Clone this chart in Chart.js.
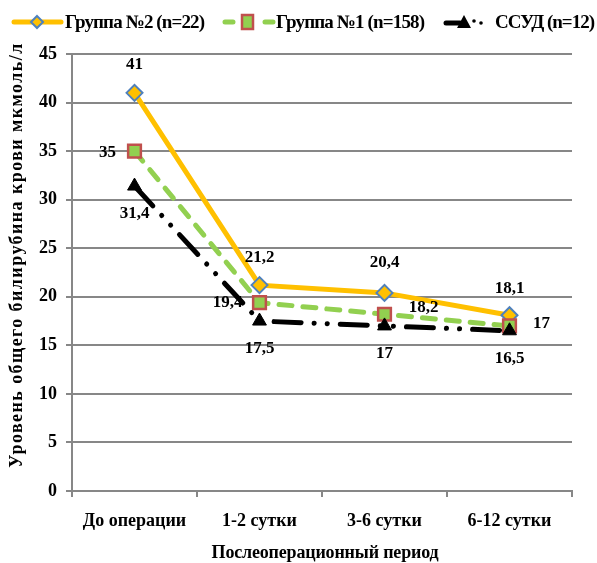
<!DOCTYPE html>
<html>
<head>
<meta charset="utf-8">
<script src="https://cdn.jsdelivr.net/npm/chart.js@4.4.1/dist/chart.umd.min.js"></script>
<style>
html,body{margin:0;padding:0;background:#fff}
#wrap{width:597px;height:563px}
</style>
</head>
<body>
<div id="wrap"><canvas id="c"></canvas></div>
<script>
const categories=['До операции','1-2 сутки','3-6 сутки','6-12 сутки']
const group2=[41,21.2,20.4,18.1]
const group1=[35,19.4,18.2,17]
const ssud=[31.4,17.5,17,16.5]
const names=['Группа №2 (n=22)','Группа №1 (n=158)','ССУД (n=12)']
const yTitle='Уровень общего билирубина крови мкмоль/л'
const xTitle='Послеоперационный период'

const FONT='"Liberation Serif","Times New Roman",serif'
const grey='#878787'

// where each value label sits, relative to its point
const labelPos=[
  [[0,-28],[0,-28],[0,-30],[0,-27]],
  [[-27,1],[-32,0],[39,-7],[32,-2]],
  [[0,28],[0,28],[0,28],[0,28]]
]
// legend: x of marker sample start and of text, target text widths
const legendX=[[13,65,140],[223,276,149],[444,495,100]]
const legendY=22

function drawSample(g,i,x,y){
  g.save()
  g.lineCap='round'
  g.lineWidth=5
  if(i==0){
    g.strokeStyle='#FFC000'
    g.beginPath();g.moveTo(x+1,y);g.lineTo(x+48,y);g.stroke()
    g.fillStyle='#FFC000';g.strokeStyle='#4F81BD';g.lineWidth=2
    g.beginPath();g.moveTo(x+24,y-6);g.lineTo(x+30,y);g.lineTo(x+24,y+6);g.lineTo(x+18,y);g.closePath();g.fill();g.stroke()
  }else if(i==1){
    g.strokeStyle='#92D050'
    g.beginPath();g.moveTo(x+2,y);g.lineTo(x+10,y);g.moveTo(x+42,y);g.lineTo(x+50,y);g.stroke()
    g.fillStyle='#92D050';g.strokeStyle='#C0504D';g.lineWidth=2.5
    g.fillRect(x+19,y-7,11,14);g.strokeRect(x+19,y-7,11,14)
  }else{
    g.strokeStyle='#000'
    g.beginPath();g.moveTo(x+2,y+1);g.lineTo(x+16,y+1);g.stroke()
    g.fillStyle='#000'
    g.beginPath();g.moveTo(x+20,y-7);g.lineTo(x+27,y+6);g.lineTo(x+13,y+6);g.closePath();g.fill()
    g.beginPath();g.arc(x+30,y-1,1.8,0,Math.PI*2);g.fill()
    g.beginPath();g.arc(x+37,y+1,1.8,0,Math.PI*2);g.fill()
  }
  g.restore()
}

function spacedText(ctx,text,width){
  ctx.letterSpacing='0px'
  const w=ctx.measureText(text).width
  ctx.letterSpacing=((width-w)/(text.length-1))+'px'
}

const legendDraw={
  id:'legendDraw',
  afterDraw(chart){
    const ctx=chart.ctx
    ctx.save()
    ctx.fillStyle='#000'
    ctx.textAlign='left'
    ctx.textBaseline='middle'
    ctx.font='bold 19px '+FONT
    chart.data.datasets.forEach((ds,i)=>{
      drawSample(ctx,i,legendX[i][0],legendY)
      spacedText(ctx,ds.label,legendX[i][2])
      ctx.fillText(ds.label,legendX[i][1],legendY+1)
    })
    ctx.restore()
  }
}

const valueLabels={
  id:'valueLabels',
  afterDatasetsDraw(chart){
    const ctx=chart.ctx
    ctx.save()
    ctx.font='bold 17px '+FONT
    ctx.fillStyle='#000'
    ctx.textAlign='center'
    ctx.textBaseline='middle'
    chart.data.datasets.forEach((ds,i)=>{
      chart.getDatasetMeta(i).data.forEach((p,j)=>{
        const t=String(ds.data[j]).replace('.',',')
        ctx.fillText(t,p.x+labelPos[i][j][0],p.y+labelPos[i][j][1])
      })
    })
    ctx.restore()
  }
}

const titles={
  id:'titles',
  afterDraw(chart){
    const ctx=chart.ctx
    ctx.save()
    ctx.fillStyle='#000'
    ctx.textAlign='center'
    ctx.textBaseline='middle'
    ctx.font='bold 18px '+FONT
    spacedText(ctx,xTitle,227)
    ctx.fillText(xTitle,325,553)
    ctx.translate(17,255)
    ctx.rotate(-Math.PI/2)
    ctx.font='bold 18px '+FONT
    spacedText(ctx,yTitle,424)
    ctx.fillText(yTitle,0,0)
    ctx.restore()
  }
}

new Chart('c',{
  type:'line',
  data:{
    labels:categories,
    datasets:[
      {label:names[0],data:group2,order:3,borderColor:'#FFC000',borderWidth:5,
       pointStyle:'rectRot',pointRadius:8,pointBackgroundColor:'#FFC000',pointBorderColor:'#4F81BD',pointBorderWidth:2},
      {label:names[1],data:group1,order:2,borderColor:'#92D050',borderWidth:5,borderDash:[13,11],borderCapStyle:'round',
       pointStyle:'rect',pointRadius:9,pointBackgroundColor:'#92D050',pointBorderColor:'#C0504D',pointBorderWidth:2.5},
      {label:names[2],data:ssud,order:1,borderColor:'#000',borderWidth:5,borderDash:[27,13,0.1,13,0.1,13],borderCapStyle:'round',
       pointStyle:'triangle',pointRadius:8,pointBackgroundColor:'#000',pointBorderColor:'#000',pointBorderWidth:1}
    ]
  },
  options:{
    responsive:true,
    maintainAspectRatio:false,
    animation:false,
    layout:{padding:{left:0,right:25,top:54,bottom:0}},
    plugins:{
      tooltip:{enabled:false},
      legend:{display:false}
    },
    scales:{
      x:{
        offset:true,
        afterFit(s){s.height=72},
        grid:{offset:true,drawOnChartArea:false,drawTicks:true,tickLength:6,color:grey,lineWidth:2},
        border:{color:grey,width:2},
        ticks:{color:'#000',padding:14,font:{family:FONT,size:18,weight:'bold'}}
      },
      y:{
        min:0,max:45,
        afterFit(s){s.width=72},
        grid:{color:grey,lineWidth:2,tickLength:6},
        border:{color:grey,width:2},
        ticks:{stepSize:5,color:'#000',padding:9,font:{family:FONT,size:18,weight:'bold'}}
      }
    }
  },
  plugins:[valueLabels,titles,legendDraw]
})
</script>
</body>
</html>
